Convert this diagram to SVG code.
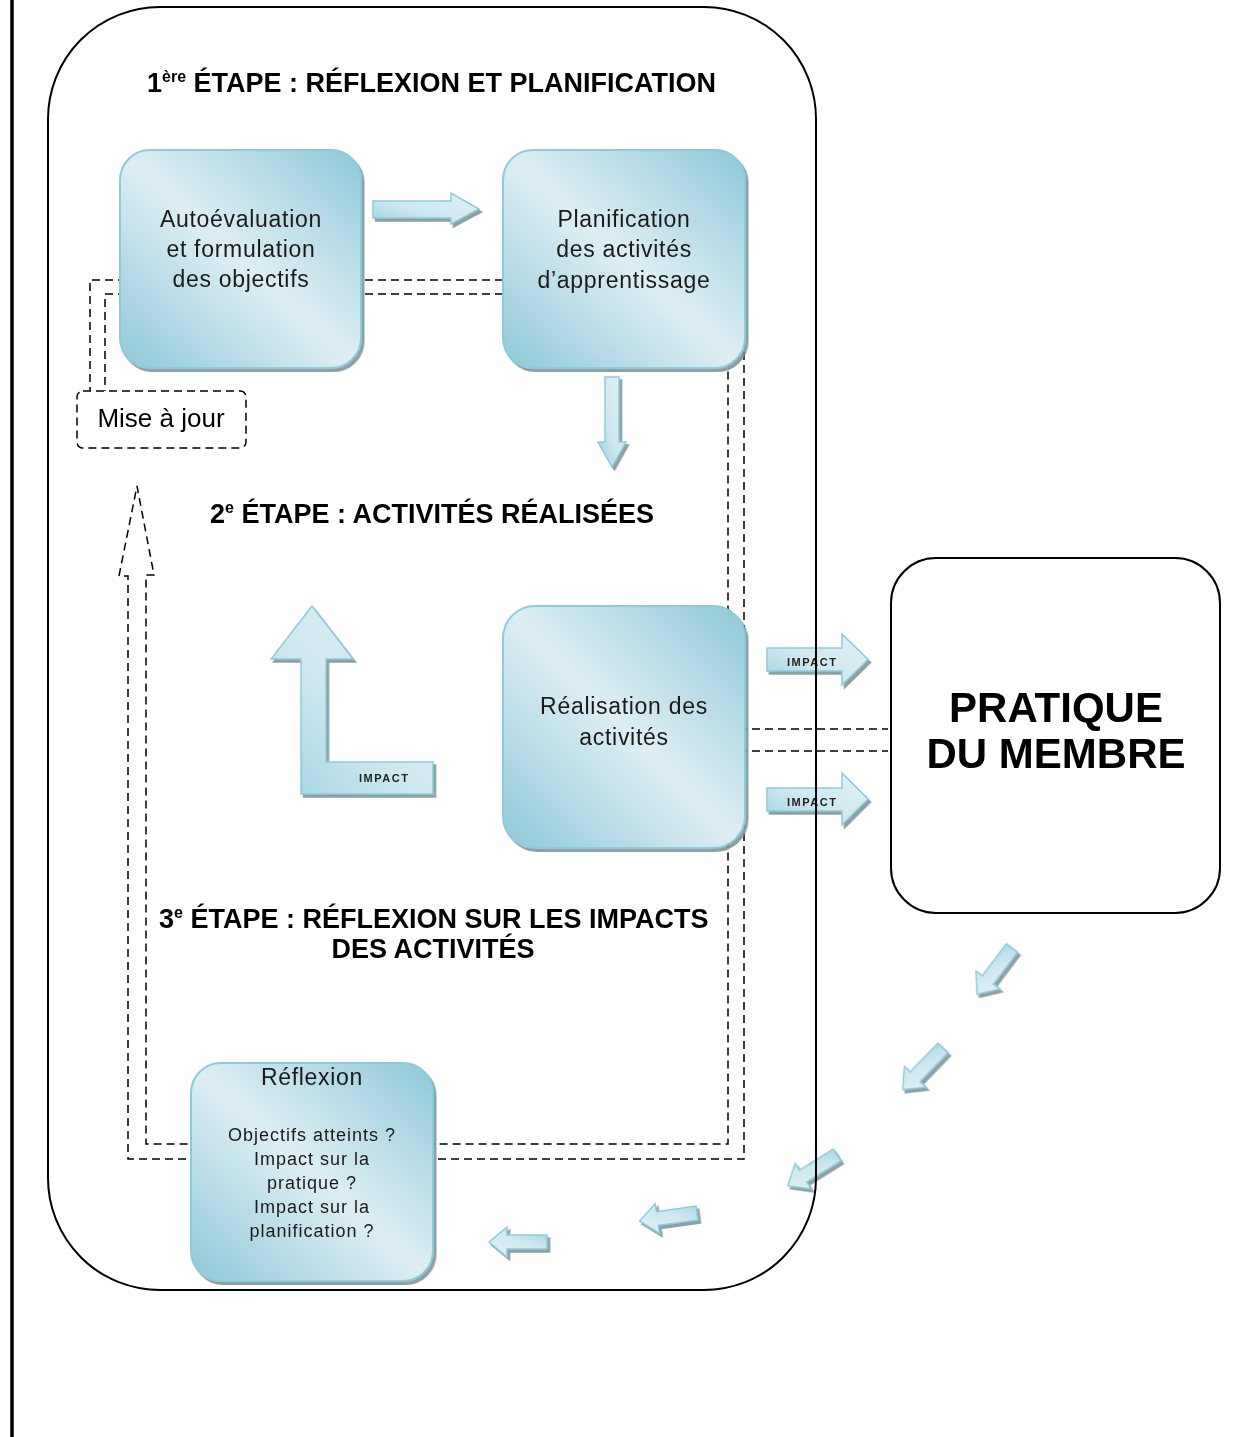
<svg xmlns="http://www.w3.org/2000/svg" width="1248" height="1437" viewBox="0 0 1248 1437">
<style>
.box { fill: url(#gBox); stroke: #8ccbdc; stroke-width: 2; }
.bt { font-family: 'Liberation Sans', Arial, sans-serif; font-size: 23px; letter-spacing: 0.7px; fill: #1a1a1a; text-anchor: middle; }
.st { font-family: 'Liberation Sans', Arial, sans-serif; font-size: 18px; letter-spacing: 1px; fill: #1a1a1a; text-anchor: middle; }
.title { font-family: 'Liberation Sans', Arial, sans-serif; font-weight: bold; font-size: 27px; fill: #000; }
.sup { font-size: 16px; }
.dash { fill: none; stroke: #000; stroke-width: 1.5; stroke-dasharray: 8 5; }
.arr { fill: url(#gArr); stroke: #8ccbdc; stroke-width: 1.5; }
.imp { font-family: 'Liberation Sans', Arial, sans-serif; font-weight: bold; font-size: 11px; letter-spacing: 1.5px; fill: #222; }
</style>
<defs>
<linearGradient id="gBox" x1="0" y1="1" x2="1" y2="0">
<stop offset="0" stop-color="#8fc8d8"/>
<stop offset="0.5" stop-color="#ddeef4"/>
<stop offset="1" stop-color="#8fc8d8"/>
</linearGradient>
<linearGradient id="gArr" x1="1" y1="0" x2="0" y2="1">
<stop offset="0" stop-color="#e2f1f6"/>
<stop offset="0.55" stop-color="#cfe8f0"/>
<stop offset="1" stop-color="#9fd2e0"/>
</linearGradient>
<filter id="sh" x="-10%" y="-10%" width="130%" height="130%">
<feDropShadow dx="2.5" dy="3" stdDeviation="0.6" flood-color="#7d8d92" flood-opacity="0.85"/>
</filter>
<polygon id="blk" points="0,-7 40,-7 40,-15 58,0 40,15 40,7 0,7"/>
</defs>

<rect x="0" y="0" width="1248" height="1437" fill="#fff"/>
<line x1="12" y1="0" x2="12" y2="1437" stroke="#000" stroke-width="3.5"/>

<g id="connectors">
<path class="dash" d="M503,280 H90 V391"/>
<path class="dash" d="M503,294 H105 V391"/>
<path class="dash" d="M744,300 V1159 H128 V576 H119 L137,486 L154,575 H146 V1144 H728 V300"/>
<path class="dash" d="M700,729 H888 M700,751 H888"/>
</g>

<g id="arrows">
<g filter="url(#sh)">
<polygon class="arr" points="373,201 451,201 451,193 479,209 451,224 451,218 373,218"/>
<polygon class="arr" points="605,377 619,377 619,442 626,442 612,467 598,442 605,442"/>
<polygon class="arr" points="301,794 301,659 271,659 312,606 353,659 326,659 326,762 433,762 433,794"/>
<polygon class="arr" points="767,648 842,648 842,634 868,659.5 842,685 842,671 767,671"/>
<polygon class="arr" points="767,788 842,788 842,773 868,799 842,825 842,811 767,811"/>
<use href="#blk" class="arr" transform="translate(1012,948) rotate(127)"/>
<use href="#blk" class="arr" transform="translate(943,1048) rotate(134)"/>
<use href="#blk" class="arr" transform="translate(837,1155) rotate(148)"/>
<use href="#blk" class="arr" transform="translate(697,1213) rotate(172)"/>
<use href="#blk" class="arr" transform="translate(547,1242) rotate(180)"/>
</g>
<text class="imp" x="359" y="782">IMPACT</text>
<text class="imp" x="787" y="666">IMPACT</text>
<text class="imp" x="787" y="806">IMPACT</text>
</g>

<g id="etape1">
<rect x="48" y="7" width="768" height="1283" rx="112" ry="112" fill="none" stroke="#000" stroke-width="2"/>
<text class="title" x="147" y="92">1<tspan class="sup" dy="-10">ère</tspan><tspan dy="10"> ÉTAPE : RÉFLEXION ET PLANIFICATION</tspan></text>
<text class="title" x="210" y="523">2<tspan class="sup" dy="-10">e</tspan><tspan dy="10"> ÉTAPE : ACTIVITÉS RÉALISÉES</tspan></text>
<text class="title" x="159" y="928">3<tspan class="sup" dy="-10">e</tspan><tspan dy="10"> ÉTAPE : RÉFLEXION SUR LES IMPACTS</tspan></text>
<text class="title" x="433" y="958" text-anchor="middle">DES ACTIVITÉS</text>
</g>

<g id="autoevaluation">
<rect class="box" x="120" y="150" width="241" height="218" rx="30" filter="url(#sh)"/>
<text class="bt" x="241" y="227">Autoévaluation</text>
<text class="bt" x="241" y="257">et formulation</text>
<text class="bt" x="241" y="287">des objectifs</text>
</g>

<g id="planification">
<rect class="box" x="503" y="150" width="242" height="218" rx="30" filter="url(#sh)"/>
<text class="bt" x="624" y="227">Planification</text>
<text class="bt" x="624" y="257">des activités</text>
<text class="bt" x="624" y="288">d’apprentissage</text>
</g>

<g id="miseajour">
<rect class="dash" x="77" y="391" width="169" height="57" rx="6"/>
<text x="161" y="427" text-anchor="middle" font-family="'Liberation Sans', Arial, sans-serif" font-size="26" fill="#000">Mise à jour</text>
</g>

<g id="realisation">
<rect class="box" x="503" y="606" width="242" height="242" rx="32" filter="url(#sh)"/>
<text class="bt" x="624" y="714">Réalisation des</text>
<text class="bt" x="624" y="745">activités</text>
</g>

<g id="reflexion">
<rect class="box" x="191" y="1063" width="242" height="218" rx="30" filter="url(#sh)"/>
<text class="bt" x="312" y="1085">Réflexion</text>
<text class="st" x="312" y="1141">Objectifs atteints ?</text>
<text class="st" x="312" y="1165">Impact sur la</text>
<text class="st" x="312" y="1189">pratique ?</text>
<text class="st" x="312" y="1213">Impact sur la</text>
<text class="st" x="312" y="1237">planification ?</text>
</g>

<g id="pratique">
<rect x="891" y="558" width="329" height="355" rx="45" fill="#fff" stroke="#000" stroke-width="2"/>
<text x="1056" y="722" text-anchor="middle" font-family="'Liberation Sans', Arial, sans-serif" font-weight="bold" font-size="42" fill="#000">PRATIQUE</text>
<text x="1056" y="768" text-anchor="middle" font-family="'Liberation Sans', Arial, sans-serif" font-weight="bold" font-size="42" fill="#000">DU MEMBRE</text>
</g>
</svg>
